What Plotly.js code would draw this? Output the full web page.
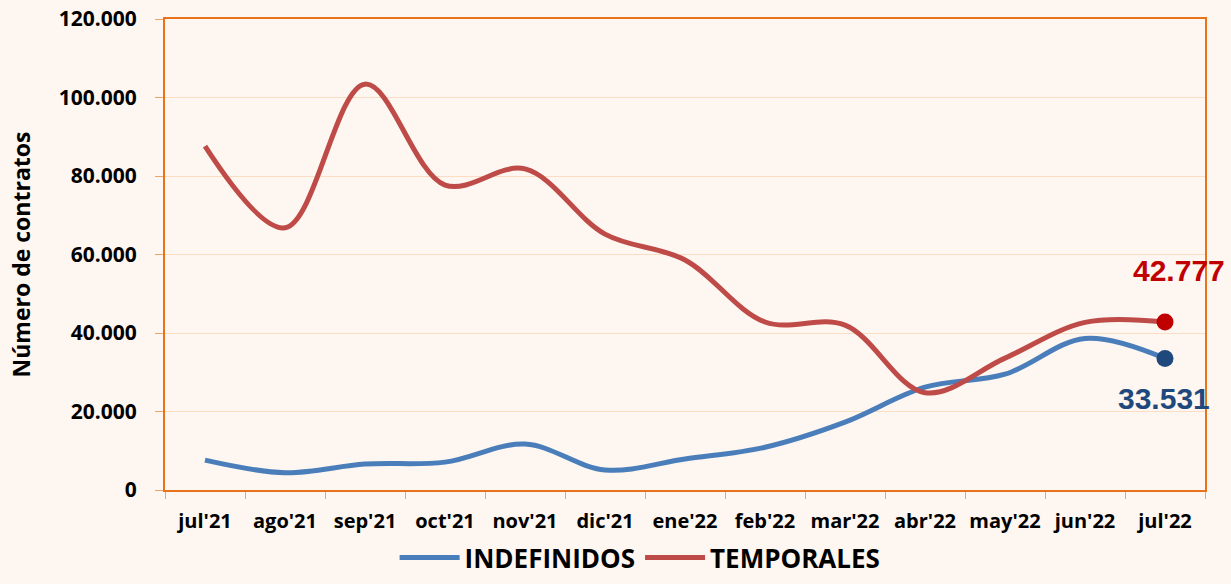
<!DOCTYPE html>
<html>
<head>
<meta charset="utf-8">
<script src="https://cdn.plot.ly/plotly-3.0.1.min.js"></script>
<style>html,body{margin:0;padding:0;background:#FEF6F0;}#chart{width:1231px;height:584px;}</style>
</head>
<body>
<div id="chart"></div>
<script>
const months = ["jul'21","ago'21","sep'21","oct'21","nov'21","dic'21","ene'22","feb'22","mar'22","abr'22","may'22","jun'22","jul'22"];
const indefinidos = [7600, 4400, 6600, 7100, 11700, 5100, 7900, 10900, 17300, 26200, 29500, 38600, 33531];
const temporales = [87600, 66800, 103400, 77700, 81800, 65200, 58600, 42800, 42000, 24800, 33600, 42700, 42777];
const yTicks = [0, 20000, 40000, 60000, 80000, 100000, 120000];
const yTickLabels = ["0", "20.000", "40.000", "60.000", "80.000", "100.000", "120.000"];
const lastLabels = ["33.531", "42.777"];

const n = months.length;
const traces = [
  {x: months, y: indefinidos, type: 'scatter', mode: 'lines', name: 'INDEFINIDOS',
   line: {color: '#4A7EBB', width: 5, shape: 'spline', smoothing: 1}},
  {x: months, y: temporales, type: 'scatter', mode: 'lines', name: 'TEMPORALES',
   line: {color: '#BE4B48', width: 5, shape: 'spline', smoothing: 1}},
  {x: [months[n-1]], y: [indefinidos[n-1]], type: 'scatter', mode: 'markers', showlegend: false,
   marker: {color: '#1F497D', size: 17}},
  {x: [months[n-1]], y: [temporales[n-1]], type: 'scatter', mode: 'markers', showlegend: false,
   marker: {color: '#C00000', size: 17}}
];

const layout = {
  width: 1231, height: 584,
  paper_bgcolor: '#FEF6F0', plot_bgcolor: '#FEF6F0',
  margin: {l: 165, r: 26, t: 19, b: 94, autoexpand: false},
  font: {family: 'Open Sans, sans-serif', color: '#000'},
  showlegend: true,
  legend: {orientation: 'h', xref: 'container', yref: 'container', x: 0.52, xanchor: 'center', y: 0.045, yanchor: 'middle',
           font: {size: 26, family: 'Open Sans, sans-serif', color: '#000', weight: 'bold'},
           bgcolor: 'rgba(0,0,0,0)', itemwidth: 60, tracegroupgap: 0},
  xaxis: {type: 'category', range: [-0.5, n - 0.5], showgrid: false,
          showline: true, linecolor: '#E8731A', linewidth: 2, mirror: true,
          ticks: 'outside', tickson: 'boundaries', ticklen: 7, tickcolor: '#F4A460', tickwidth: 1,
          ticklabelstandoff: 12, tickangle: 0,
          tickfont: {size: 20, family: 'Open Sans, sans-serif', weight: 'bold', color: '#000'},
          zeroline: false},
  yaxis: {range: [0, 120000], tickvals: yTicks, ticktext: yTickLabels,
          showgrid: true, gridcolor: '#FBDDC4', gridwidth: 1,
          showline: true, linecolor: '#E8731A', linewidth: 2, mirror: true,
          ticks: 'outside', ticklen: 8, tickcolor: '#F4A460', tickwidth: 1,
          ticklabelstandoff: 14,
          tickfont: {size: 21, family: 'Open Sans, sans-serif', weight: 'bold', color: '#000'},
          zeroline: false,
          title: {text: 'Número de contratos', standoff: 22,
                  font: {size: 23, family: 'Open Sans, sans-serif', weight: 'bold', color: '#000'}}},
  annotations: [
    {x: months[n-1], y: temporales[n-1], xref: 'x', yref: 'y', text: lastLabels[1], showarrow: false,
     xshift: 14, yshift: 52, font: {size: 30, family: 'Liberation Sans, Arial, sans-serif', color: '#C00000', weight: 'bold'}},
    {x: months[n-1], y: indefinidos[n-1], xref: 'x', yref: 'y', text: lastLabels[0], showarrow: false,
     xshift: -1, yshift: -40, font: {size: 30, family: 'Liberation Sans, Arial, sans-serif', color: '#1F497D', weight: 'bold'}}
  ]
};
Plotly.newPlot('chart', traces, layout, {displayModeBar: false});
</script>
</body>
</html>
